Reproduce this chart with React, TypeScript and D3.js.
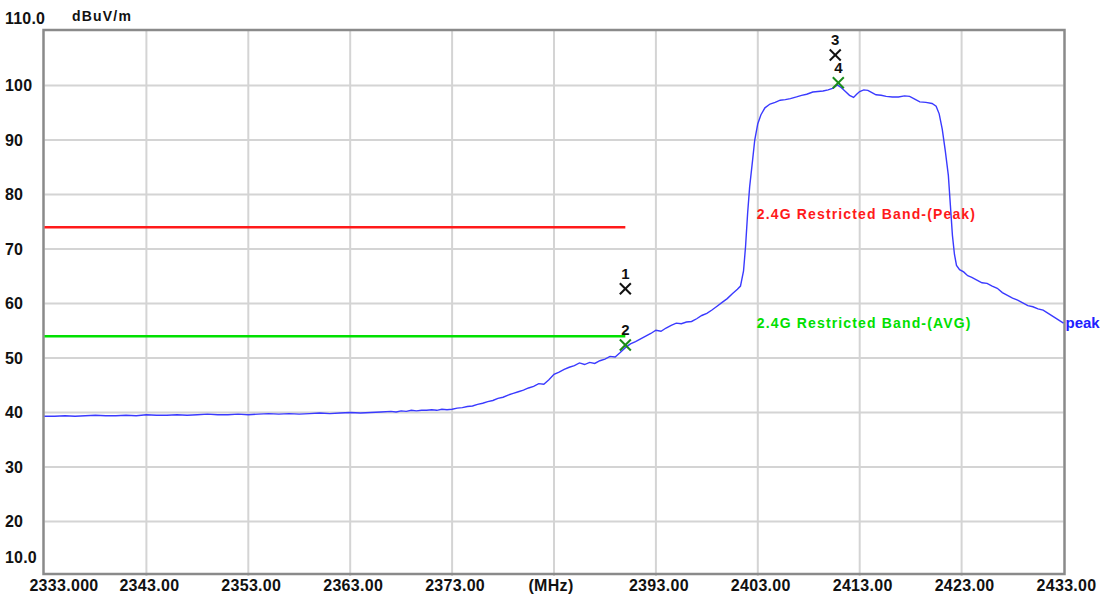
import React from "react";
import * as d3 from "d3";

const W = 1105;
const H = 601;

const yTicks = [110, 100, 90, 80, 70, 60, 50, 40, 30, 20, 10];
const yTickLabels = ["110.0", "100", "90", "80", "70", "60", "50", "40", "30", "20", "10.0"];
const xTicks = [2333, 2343, 2353, 2363, 2373, 2383, 2393, 2403, 2413, 2423, 2433];
const xTickLabels = ["2333.000", "2343.00", "2353.00", "2363.00", "2373.00", "(MHz)", "2393.00", "2403.00", "2413.00", "2423.00", "2433.00"];

const freqs = [
  2333, 2334, 2335, 2336, 2337, 2338, 2339, 2340, 2341, 2342, 2343, 2344, 2345, 2346, 2347, 2348, 2349,
  2350, 2351, 2352, 2353, 2354, 2355, 2356, 2357, 2358, 2359, 2360, 2361, 2362, 2363, 2364, 2365, 2366,
  2367, 2367.5, 2368, 2368.5, 2369, 2369.5, 2370, 2370.5, 2371, 2371.5, 2372, 2372.5, 2373, 2373.5,
  2374, 2374.5, 2375, 2375.5, 2376, 2376.5, 2377, 2377.5, 2378, 2378.5, 2379, 2379.5, 2380, 2380.5,
  2381, 2381.5, 2382, 2382.5, 2383, 2383.5, 2384, 2384.5, 2385, 2385.5, 2386, 2386.5, 2387, 2387.5,
  2388, 2388.5, 2389, 2389.5, 2390, 2390.5, 2391, 2391.5, 2392, 2392.5, 2393, 2393.5, 2394, 2394.5,
  2395, 2395.5, 2396, 2396.5, 2397, 2397.5, 2398, 2398.5, 2399, 2399.5, 2400, 2400.5, 2401, 2401.3,
  2401.6, 2401.8, 2402, 2402.2, 2402.5, 2402.7, 2403, 2403.3, 2403.7, 2404.2, 2404.7, 2405.2, 2405.7,
  2406.2, 2406.8, 2407.3, 2407.8, 2408.4, 2408.9, 2409.4, 2409.9, 2410.4, 2410.8, 2411.2, 2411.6,
  2412.0, 2412.4, 2412.7, 2413.0, 2413.4, 2413.8, 2414.2, 2414.6, 2415.1, 2415.6, 2416.2, 2416.8,
  2417.4, 2417.9, 2418.4, 2418.9, 2419.5, 2420.1, 2420.5, 2420.8, 2421.1, 2421.4, 2421.7, 2421.9,
  2422.1, 2422.3, 2422.5, 2422.8, 2423.2, 2423.6, 2424.0, 2424.5, 2425.0, 2425.5, 2426.0, 2426.5,
  2427.0, 2427.5, 2428.0, 2428.5, 2429.0, 2429.5, 2430.0, 2430.5, 2431.0, 2431.5, 2432.0, 2432.5, 2433.0,
];

const peakLevels = [
  39.3, 39.3, 39.4, 39.3, 39.4, 39.5, 39.4, 39.4, 39.5, 39.4, 39.6, 39.5, 39.5, 39.6, 39.5, 39.6, 39.7,
  39.6, 39.6, 39.7, 39.6, 39.7, 39.8, 39.7, 39.8, 39.7, 39.8, 39.9, 39.8, 39.9, 40.0, 39.9, 40.0, 40.1,
  40.2, 40.1, 40.3, 40.2, 40.4, 40.3, 40.4, 40.4, 40.5, 40.4, 40.6, 40.5, 40.6, 40.8,
  40.9, 41.1, 41.2, 41.5, 41.7, 42.0, 42.2, 42.6, 42.8, 43.2, 43.5, 43.8, 44.1, 44.5,
  44.8, 45.3, 45.2, 46.0, 47.0, 47.4, 47.9, 48.3, 48.6, 49.1, 48.8, 49.2, 49.0, 49.5,
  49.8, 50.3, 50.2, 51.0, 51.9, 52.6, 53.0, 53.5, 54.0, 54.5, 55.1, 54.9, 55.5, 56.0,
  56.4, 56.3, 56.6, 56.7, 57.2, 57.8, 58.2, 58.8, 59.5, 60.2, 60.9, 61.8, 62.6, 63.2,
  66.0, 70.5, 76.5, 81.4, 86.5, 90.0, 93.0, 94.6, 95.9, 96.6, 96.9, 97.3, 97.4,
  97.6, 97.9, 98.2, 98.4, 98.8, 98.9, 99.0, 99.2, 99.5, 100.1, 99.6, 98.9,
  98.2, 97.8, 98.4, 98.9, 99.2, 99.1, 98.7, 98.3, 98.2, 98.0, 97.9, 97.9,
  98.1, 98.0, 97.5, 97.0, 96.9, 96.7, 96.2, 94.8, 92.0, 88.0, 83.5, 78.0,
  72.5, 69.0, 67.0, 66.2, 65.8, 65.1, 64.8, 64.3, 63.8, 63.7, 63.2, 62.8,
  62.0, 61.5, 61.0, 60.6, 60.1, 59.6, 59.4, 59.0, 58.8, 58.2, 57.6, 57.0, 56.4,
];

const limitNames = ["2.4G Restricted Band-(Peak)", "2.4G Restricted Band-(AVG)"];
const limitLevels = [74, 54];
const limitStart = 2333;
const limitEnd = 2390;
const limitLabelFreq = 2402.9;

const markerIds = ["1", "2", "3", "4"];
const markerFreqs = [2390, 2390, 2410.6, 2410.9];
const markerLevels = [62.7, 52.4, 105.6, 100.5];
const markerKinds = ["peak", "avg", "peak", "avg"];

const FONT = "'Liberation Sans', Arial, sans-serif";

export default function App() {
  const left = 44.5, right = 1063.5, top = 31, bottom = 576;
  const x = d3.scaleLinear().domain([2333, 2433]).range([left, right]);
  const y = d3.scaleLinear().domain([10, 110]).range([bottom, top]);

  const pts: [number, number][] = freqs.map((f, i) => [f, peakLevels[i]]);
  const line = d3.line<[number, number]>().x((d) => x(d[0])).y((d) => y(d[1]));

  const limitColors = ["#ff1a1a", "#00e000"];
  const markerColors: Record<string, string> = { peak: "#111111", avg: "#1a8c1a" };

  return (
    <svg width={W} height={H} style={{ position: "fixed", left: 0, top: 0, background: "#fff" }} fontFamily={FONT}>
      <rect x={0} y={0} width={W} height={H} fill="#fff" />
      {/* grid */}
      {yTicks.slice(1, -1).map((t) => (
        <line key={"gy" + t} x1={left} x2={right} y1={y(t)} y2={y(t)} stroke="#d4d4d4" strokeWidth={2} />
      ))}
      {xTicks.slice(1, -1).map((t) => (
        <line key={"gx" + t} x1={x(t)} x2={x(t)} y1={top} y2={bottom} stroke="#d4d4d4" strokeWidth={2} />
      ))}
      {/* frame */}
      <rect x={left - 1} y={top - 1} width={right - left + 2} height={bottom - top - 1} fill="none" stroke="#8a8a8a" strokeWidth={2.5} />

      {/* y labels */}
      {yTicks.map((t, i) => {
        let yy = y(t) + 5.5;
        if (i === 0) yy = 24;
        if (i === yTicks.length - 1) yy = 563;
        return (
          <text key={"yl" + t} x={5} y={yy} fontSize={16} fontWeight="bold" fill="#111" letterSpacing={0.2}>
            {yTickLabels[i]}
          </text>
        );
      })}
      <text x={72} y={21} fontSize={14} fontWeight="bold" fill="#111" letterSpacing={1.2}>dBuV/m</text>

      {/* x labels */}
      {xTicks.map((t, i) => {
        let xx = x(t) + 3;
        if (i === 0) xx = 64;
        if (xTickLabels[i] === "(MHz)") xx = x(t) - 3;
        return (
          <text key={"xl" + t} x={xx} y={591} fontSize={16} fontWeight="bold" fill="#111" textAnchor="middle" letterSpacing={0.3}>
            {xTickLabels[i]}
          </text>
        );
      })}

      {/* limits */}
      {limitLevels.map((lv, i) => (
        <g key={"lim" + i}>
          <line x1={x(limitStart)} x2={x(limitEnd)} y1={y(lv)} y2={y(lv)} stroke={limitColors[i]} strokeWidth={2.5} />
          <text x={x(limitLabelFreq)} y={y(lv) - 8} fontSize={14} fontWeight="bold" fill={limitColors[i]} letterSpacing={1.15}>
            {limitNames[i]}
          </text>
        </g>
      ))}

      {/* trace */}
      <path d={line(pts) || ""} fill="none" stroke="#3a3aff" strokeWidth={1.4} />
      <text x={right + 2} y={y(peakLevels[peakLevels.length - 1]) + 5} fontSize={15} fontWeight="bold" fill="#2020ff">peak</text>

      {/* markers */}
      {markerIds.map((id, i) => {
        const cx = x(markerFreqs[i]);
        const cy = y(markerLevels[i]);
        const c = markerColors[markerKinds[i]];
        const s = 5.5;
        return (
          <g key={"m" + id}>
            <line x1={cx - s} x2={cx + s} y1={cy - s} y2={cy + s} stroke={c} strokeWidth={2} />
            <line x1={cx - s} x2={cx + s} y1={cy + s} y2={cy - s} stroke={c} strokeWidth={2} />
            <text x={cx} y={cy - 10} fontSize={15} fontWeight="bold" fill="#111" textAnchor="middle">{id}</text>
          </g>
        );
      })}
    </svg>
  );
}
